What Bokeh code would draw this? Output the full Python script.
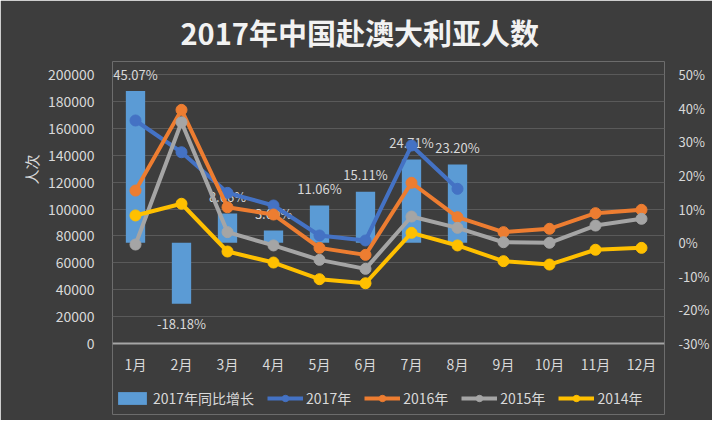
from bokeh.plotting import figure
from bokeh.models import (Range1d, LinearAxis, FixedTicker, PrintfTickFormatter,
                          BasicTickFormatter, Legend, LegendItem, Title, Span)
from bokeh.core.properties import value
from bokeh.embed import file_html
from bokeh.resources import INLINE

months = ["1月", "2月", "3月", "4月", "5月", "6月", "7月", "8月", "9月", "10月", "11月", "12月"]
growth_2017 = [45.07, -18.18, 8.66, 3.60, 11.06, 15.11, 24.71, 23.20]
v2017 = [165800, 142200, 112000, 102600, 80300, 76600, 147200, 115000]
v2016 = [113700, 173700, 101300, 95900, 71100, 65900, 119500, 93900, 82800, 85300, 96900, 99400]
v2015 = [73600, 164500, 82800, 72900, 62200, 55500, 94400, 86000, 75300, 74900, 87700, 92700]
v2014 = [95200, 103900, 68400, 60200, 47800, 44800, 82300, 72900, 61200, 58700, 69700, 71100]
left_ticks = list(range(0, 200001, 20000))
right_ticks = list(range(-30, 51, 10))

FONT = "Noto Sans CJK SC"
BG = "#3d3d3d"
TXT = "#d9d9d9"

# layout geometry (pixels): axis span 269 px, frame extended above and below it
AX_PX, TOP_PAD, BOT_PAD = 269, 13, 71
L_MIN, L_MAX = 0, 200000
R_MIN, R_MAX = -30, 50
l_per_px = (L_MAX - L_MIN) / AX_PX
r_per_px = (R_MAX - R_MIN) / AX_PX

p = figure(x_range=months,
           y_range=Range1d(L_MIN - BOT_PAD * l_per_px, L_MAX + TOP_PAD * l_per_px),
           frame_width=552, frame_height=AX_PX + TOP_PAD + BOT_PAD,
           output_backend="svg", toolbar_location=None,
           min_border_left=112, min_border_right=40, min_border_top=61, min_border_bottom=6)
p.background_fill_color = BG
p.border_fill_color = BG
p.outline_line_color = None

p.title = Title(text="2017年中国赴澳大利亚人数", align="left", offset=68, text_font=FONT,
                text_font_size="29px", text_font_style="bold", text_color="#f2f2f2",
                standoff=17)

p.extra_y_ranges = {"pct": Range1d(R_MIN - BOT_PAD * r_per_px, R_MAX + TOP_PAD * r_per_px)}

# grid
p.xgrid.grid_line_color = None
p.ygrid.grid_line_color = "#5a5a5a"
p.ygrid.grid_line_width = 1
p.yaxis.ticker = FixedTicker(ticks=left_ticks)

# left axis
ya = p.yaxis[0]
ya.formatter = BasicTickFormatter(use_scientific=False)
ya.axis_line_color = None
ya.major_tick_line_color = None
ya.minor_tick_line_color = None
ya.major_label_text_font = FONT
ya.major_label_text_font_size = "14px"
ya.major_label_text_color = TXT
ya.major_label_standoff = 12

# y axis title
p.add_layout(Title(text="人次", align="right", offset=93, text_font=FONT,
                   text_font_size="15px", text_font_style="normal", text_color=TXT,
                   standoff=5), "left")

# right axis
ra = LinearAxis(y_range_name="pct", ticker=FixedTicker(ticks=right_ticks),
                formatter=PrintfTickFormatter(format="%d%%"))
ra.axis_line_color = None
ra.major_tick_line_color = None
ra.minor_tick_line_color = None
ra.major_label_text_font = FONT
ra.major_label_text_font_size = "13px"
ra.major_label_text_color = TXT
ra.major_label_standoff = 8
p.add_layout(ra, "right")

# category axis drawn at value 0
p.xaxis.visible = False
p.add_layout(Span(location=0, dimension="width", line_color="#a6a6a6", line_width=2))
p.text(x=months, y=[0] * len(months), text=months, text_align="center",
       text_baseline="middle", y_offset=20, text_font=value(FONT),
       text_font_size="14px", text_color=TXT)

# bars
bars = p.vbar(x=months[:8], top=growth_2017, bottom=0, width=0.42, y_range_name="pct",
              fill_color="#5b9bd5", line_color=None)

# data labels
pos = [(m, g) for m, g in zip(months, growth_2017) if g >= 0]
neg = [(m, g) for m, g in zip(months, growth_2017) if g < 0]
p.text(x=[m for m, _ in pos], y=[g for _, g in pos], text=["%.2f%%" % g for _, g in pos],
       y_range_name="pct", text_align="center", text_baseline="middle", y_offset=-17,
       text_font=value(FONT), text_font_size="13px", text_color=TXT)
p.text(x=[m for m, _ in neg], y=[g for _, g in neg], text=["%.2f%%" % g for _, g in neg],
       y_range_name="pct", text_align="center", text_baseline="middle", y_offset=20,
       text_font=value(FONT), text_font_size="13px", text_color=TXT)

series = [
    ("2017年", months[:8], v2017, "#4472c4"),
    ("2016年", months, v2016, "#ed7d31"),
    ("2015年", months, v2015, "#a5a5a5"),
    ("2014年", months, v2014, "#ffc000"),
]
items = [LegendItem(label="2017年同比增长", renderers=[bars])]
for name, xs, ys, col in series:
    l = p.line(xs, ys, line_color=col, line_width=4)
    s = p.scatter(xs, ys, size=11, fill_color=col, line_color=col)
    items.append(LegendItem(label=name, renderers=[l, s]))

legend = Legend(items=items, orientation="horizontal", location=(2, 6),
                background_fill_alpha=0, border_line_color=None,
                label_text_font=FONT, label_text_font_size="14px", label_text_color=TXT,
                glyph_width=36, glyph_height=16, label_standoff=3, spacing=13,
                padding=0, margin=0)
p.add_layout(legend, "center")

open("out.html", "w").write(file_html(p, INLINE))
